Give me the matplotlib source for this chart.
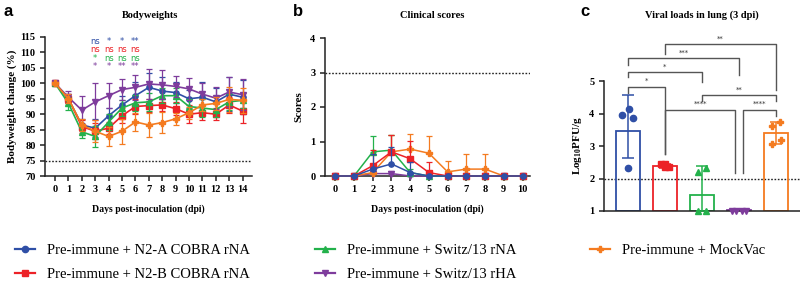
import matplotlib
matplotlib.use("Agg")
import matplotlib.pyplot as plt
from matplotlib.lines import Line2D
import numpy as np

plt.rcParams['font.family'] = ['Liberation Serif', 'DejaVu Serif']
plt.rcParams['mathtext.fontset'] = 'custom'
plt.rcParams['mathtext.rm'] = 'Liberation Serif:bold'
plt.rcParams['mathtext.bf'] = 'Liberation Serif:bold'

groups = ["Pre-immune + N2-A COBRA rNA", "Pre-immune + N2-B COBRA rNA",
          "Pre-immune + Switz/13 rNA", "Pre-immune + Switz/13 rHA",
          "Pre-immune + MockVac"]
colors = ["#2f4fa6", "#ec2227", "#23b14b", "#7e3c9c", "#f47b20"]
markers = ["o", "s", "^", "v", "P"]

# Panel a: bodyweights
days_a = list(range(15))
bw_mean = [
    [100, 95, 86.5, 85.5, 89.5, 93, 96, 98.7, 97.5, 97, 95, 95.5, 94, 96.5, 95.5],
    [100, 95, 86, 84.5, 85.5, 89.5, 92.5, 92.8, 93, 91.8, 90, 90.5, 90, 93, 91],
    [100, 93.5, 84.3, 82.8, 87.5, 92, 93.7, 94, 96, 96, 92.5, 92, 91.5, 94, 94.5],
    [100, 95.5, 91.3, 94, 96, 98, 98.7, 99.8, 99.5, 99, 98.2, 96.5, 95.2, 97.2, 96.3],
    [100, 95, 86.5, 84.5, 82.8, 84.5, 87.5, 86.5, 87.3, 88.5, 90.5, 93, 93.5, 94.8, 94.5],
]
bw_sd = [
    [0.5, 1.5, 2, 3, 2.5, 3, 4.5, 4.5, 4.5, 3.5, 3, 4.8, 4.5, 5.5, 5.5],
    [0.5, 1.5, 2, 2.5, 2, 2.5, 2.5, 2, 2, 2, 3, 2.5, 2, 2.5, 4],
    [0.5, 2, 2, 3.5, 2.5, 2.5, 2.5, 3, 2.5, 2.5, 2.5, 3, 2.5, 2.5, 2.5],
    [0.5, 2, 4.5, 6, 4, 3.5, 4, 5, 4.7, 3.5, 3.5, 3.5, 3.5, 5, 5],
    [0.5, 1.5, 2, 3.5, 3, 4, 3, 4, 3.5, 2, 2, 2, 2, 4, 4],
]
sig_days = [3, 4, 5, 6]
sig_labels = [
    ["ns", "*", "*", "**"],
    ["ns", "ns", "ns", "ns"],
    ["*", "ns", "ns", "ns"],
    ["*", "*", "**", "**"],
]

# Panel b: clinical scores
days_b = list(range(11))
cs_mean = [
    [0, 0, 0.2, 0.35, 0.1, 0, 0, 0, 0, 0, 0],
    [0, 0, 0.3, 0.7, 0.5, 0.1, 0, 0, 0, 0, 0],
    [0, 0, 0.7, 0.75, 0.1, 0, 0, 0, 0, 0, 0],
    [0, 0, 0.07, 0.07, 0, 0, 0, 0, 0, 0, 0],
    [0, 0, 0.1, 0.7, 0.78, 0.66, 0.12, 0.2, 0.2, 0, 0],
]
cs_sd = [
    [0, 0, 0.45, 0.5, 0.3, 0, 0, 0, 0, 0, 0],
    [0, 0, 0.45, 0.5, 0.52, 0.32, 0, 0, 0, 0, 0],
    [0, 0, 0.47, 0.45, 0.1, 0, 0, 0, 0, 0, 0],
    [0, 0, 0.08, 0.08, 0, 0, 0, 0, 0, 0, 0],
    [0, 0, 0.1, 0.5, 0.44, 0.51, 0.32, 0.45, 0.45, 0, 0],
]

# Panel c: viral loads
vl_mean = [3.46, 2.38, 1.48, 1.02, 3.39]
vl_err_low = [0.82, 0.07, 0.48, 0.0, 0.32]
vl_err_high = [1.11, 0.07, 0.91, 0.0, 0.35]
vl_points = [
    [3.94, 4.14, 3.87, 2.31],
    [2.45, 2.45, 2.35, 2.35],
    [2.19, 2.31, 1.0, 1.0],
    [1.0, 1.0, 1.0, 1.0],
    [3.62, 3.73, 3.18, 3.07],
]
# comparisons: (group i, group j, label)
comparisons = [(0, 1, "*"), (0, 2, "*"), (0, 3, "***"), (1, 4, "**"),
               (2, 4, "**"), (1, 3, "****"), (3, 4, "****")]

titles = ["Bodyweights", "Clinical scores", "Viral loads in lung (3 dpi)"]

# ---------------- figure -----------------
fig = plt.figure(figsize=(8, 2.81), dpi=100)
H = 281.0
W = 800.0

def ax_rect(x0, x1, ytop, ybot):
    return [x0 / W, 1 - ybot / H, (x1 - x0) / W, (ybot - ytop) / H]

def style_axes(ax):
    for s in ['top', 'right']:
        ax.spines[s].set_visible(False)
    for s in ['left', 'bottom']:
        ax.spines[s].set_linewidth(1.1)
        ax.spines[s].set_color('#222222')
    ax.tick_params(width=1.1, length=3.8, color='#222222', pad=3)
    for lab in ax.get_xticklabels() + ax.get_yticklabels():
        lab.set_fontweight('bold')
        lab.set_fontsize(7.5)

# Panel a
axa = fig.add_axes(ax_rect(45, 252, 37, 176))
for i in range(5):
    axa.errorbar(days_a, bw_mean[i], yerr=bw_sd[i], color=colors[i], marker=markers[i],
                 markersize=3.8, linewidth=1.2, elinewidth=0.9, capsize=2.5, capthick=0.9,
                 ecolor=colors[i], zorder=3 + i)
axa.axhline(75, color='#222222', linestyle=(0, (1.2, 1.2)), linewidth=1.0, zorder=1)
axa.set_xlim(-0.75, 14.7)
axa.set_ylim(70, 115)
axa.set_xticks(days_a)
axa.set_yticks(np.arange(70, 116, 5))
style_axes(axa)
row_y = [113.4, 110.8, 108.2, 105.3]
for r in range(4):
    for k, d in enumerate(sig_days):
        axa.text(d, row_y[r], sig_labels[r][k], color=colors[r],
                 fontsize=6, ha='center', va='center', family='DejaVu Sans')
axa.set_ylabel("Bodyweight change (%)", fontsize=8, fontweight='bold', labelpad=2)
axa.set_xlabel("Days post-inoculation (dpi)", fontsize=7, fontweight='bold', labelpad=7)

# Panel b
axb = fig.add_axes(ax_rect(325, 530, 38, 176))
order_b = [3, 4, 2, 1, 0]
for z, i in enumerate(order_b):
    axb.errorbar(days_b, cs_mean[i], yerr=[np.zeros(11), cs_sd[i]], color=colors[i],
                 marker=markers[i], markersize=3.8, linewidth=1.1, elinewidth=0.9,
                 capsize=2.5, capthick=0.9, zorder=3 + z, clip_on=False)
axb.axhline(3, color='#222222', linestyle=(0, (1.2, 1.2)), linewidth=1.0, zorder=1)
axb.set_xlim(-0.55, 10.4)
axb.set_ylim(0, 4)
axb.set_xticks(days_b)
axb.set_yticks(range(5))
style_axes(axb)
axb.set_ylabel("Scores", fontsize=8, fontweight='bold', labelpad=5)
axb.set_xlabel("Days post-inoculation (dpi)", fontsize=7, fontweight='bold', labelpad=7)

# Panel c
axc = fig.add_axes(ax_rect(604, 800, 81, 211))
xs = np.arange(5)
pt_offsets = [
    [-0.15, 0.02, 0.13, 0.0],
    [-0.12, 0.0, 0.0, 0.12],
    [-0.11, 0.11, -0.11, 0.11],
    [-0.2, -0.07, 0.07, 0.2],
    [-0.1, 0.12, 0.13, -0.12],
]
for i in range(5):
    axc.bar(xs[i], vl_mean[i] - 1, bottom=1, width=0.65, facecolor='none',
            edgecolor=colors[i], linewidth=1.3, zorder=2)
    if vl_err_high[i] > 0:
        axc.errorbar(xs[i], vl_mean[i], yerr=[[vl_err_low[i]], [vl_err_high[i]]],
                     color=colors[i], elinewidth=1.1, capsize=4, capthick=1.1, zorder=3)
    axc.plot(xs[i] + np.array(pt_offsets[i]), vl_points[i], linestyle='none',
             marker=markers[i], color=colors[i], markersize=4.5, clip_on=False, zorder=4)
axc.axhline(2, color='#222222', linestyle=(0, (1.2, 1.2)), linewidth=1.0, zorder=1)
axc.set_xlim(-0.65, 4.65)
axc.set_ylim(1, 5)
axc.set_yticks(range(1, 6))
axc.set_xticks([])
style_axes(axc)
axc.set_ylabel(r"Log$_{10}$PFU/g", fontsize=8, fontweight='bold', labelpad=4)

# brackets: (left x, right x, y bar, left bottom, right bottom)
br_geom = [
    (0.0, 1.0, 4.83, 4.64, 2.75),
    (0.0, 2.0, 5.28, 5.11, 4.98),
    (0.0, 3.0, 5.71, 5.49, 5.18),
    (1.0, 4.0, 6.13, 5.84, 4.73),
    (2.0, 4.0, 4.57, 4.40, 4.40),
    (1.0, 2.9, 4.12, 2.75, 2.17),
    (3.1, 4.0, 4.12, 2.17, 3.91),
]
for (i, j, lab), (xl, xr, yb, ybl, ybr) in zip(comparisons, br_geom):
    axc.plot([xl, xl, xr, xr], [ybl, yb, yb, ybr], color='#555555', linewidth=1.0,
             clip_on=False, zorder=1)
    axc.text((xl + xr) / 2, yb + 0.08, lab, fontsize=5, ha='center', va='bottom',
             family='DejaVu Sans', color='#333333')

# titles
for x, t in zip([150, 432, 702], titles):
    fig.text(x / W, 1 - 15 / H, t, fontsize=7.5, fontweight='bold',
             ha='center', va='center')

# panel letters
for x, lab in [(3, 'a'), (293, 'b'), (580, 'c')]:
    fig.text(x / W, 1 - 11 / H, lab, fontsize=12, fontweight='bold',
             family='Liberation Sans', va='center', ha='left')

# legend
cols = [(15, [0, 1]), (315, [2, 3]), (590, [4])]
for x, idx in cols:
    handles = [Line2D([], [], color=colors[i], marker=markers[i], markersize=4.5,
                      linewidth=1.6) for i in idx]
    fig.legend(handles, [groups[i] for i in idx], loc='upper left',
               bbox_to_anchor=(x / W, 1 - 244 / H), frameon=False, fontsize=10.5,
               handlelength=1.4, handletextpad=0.8, labelspacing=0.7,
               borderaxespad=0, borderpad=0)

fig.savefig("out.png", dpi=100)
